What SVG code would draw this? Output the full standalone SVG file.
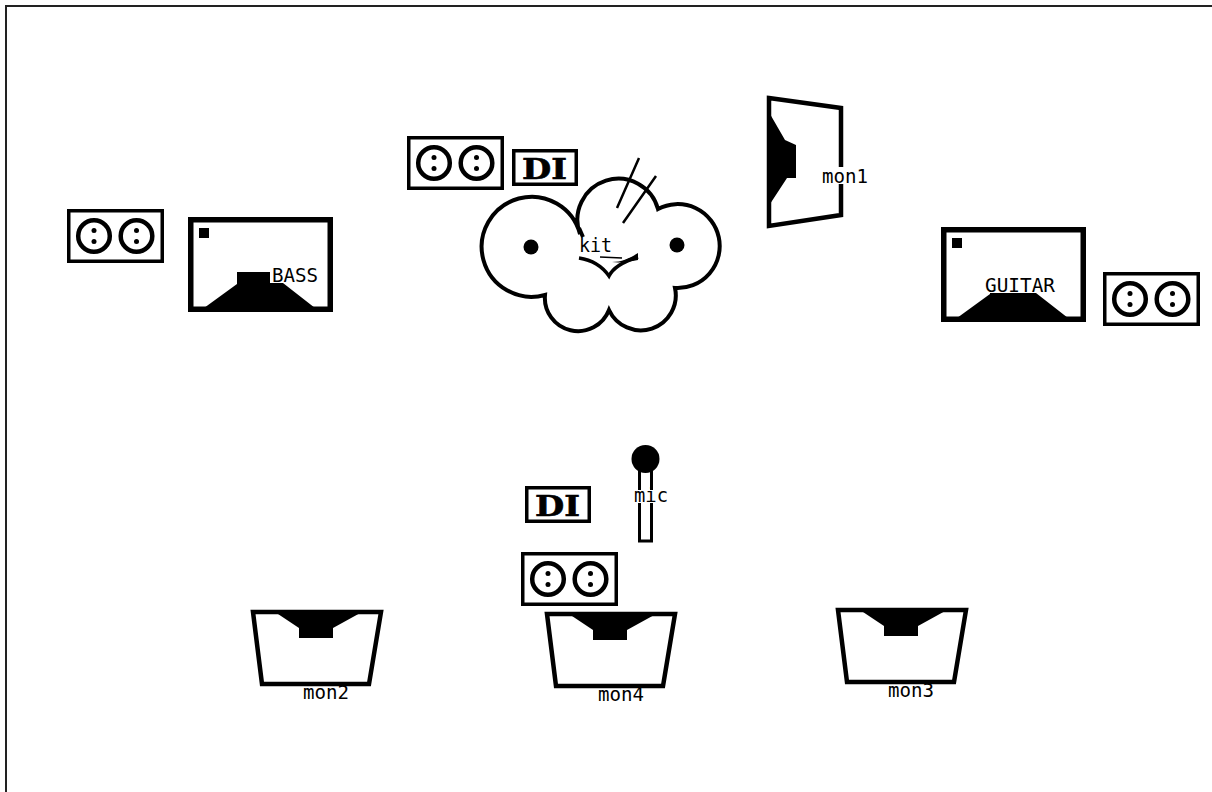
<svg xmlns="http://www.w3.org/2000/svg" width="1212" height="792" viewBox="0 0 1212 792">
<style>
.bg{fill:#fff;stroke:none}
.l{font-family:"DejaVu Sans Mono","Liberation Mono",monospace;font-size:20px;fill:#000}
.k{fill:#000;stroke:none}
.s{fill:#fff;stroke:#000;stroke-width:4.5;stroke-linejoin:miter}
.di{font-family:"DejaVu Serif","Liberation Serif",serif;font-weight:bold;font-size:28px;fill:#000;stroke:#000;stroke-width:.6}
</style>
<defs>
<g id="box">
<rect x="1.750" y="1.750" width="93.500" height="50.500" fill="#fff" stroke="#000" stroke-width="3.500"/>
<circle cx="27" cy="27" r="15.800" fill="none" stroke="#000" stroke-width="4.500"/>
<circle cx="69.500" cy="27" r="15.800" fill="none" stroke="#000" stroke-width="4.500"/>
<circle cx="27" cy="21.500" r="2.500" class="k"/><circle cx="27" cy="32.500" r="2.500" class="k"/>
<circle cx="69.500" cy="21.500" r="2.500" class="k"/><circle cx="69.500" cy="32.500" r="2.500" class="k"/>
</g>
<g id="di">
<rect x="1.750" y="1.750" width="62.500" height="33.500" fill="#fff" stroke="#000" stroke-width="3.500"/>
<text x="10" y="30" class="di" textLength="45" lengthAdjust="spacingAndGlyphs">DI</text>
</g>
<g id="amp">
<rect x="2.750" y="2.750" width="139.500" height="89.500" fill="#fff" stroke="#000" stroke-width="5.500"/>
<rect x="11" y="11" width="10" height="10" class="k"/>
<path d="M16 91L49 67V55H93V66H95L127 91Z" class="k"/>
</g>
<g id="wedge">
<path d="M3 3H131L119 75H12Z" class="s"/>
<path d="M25 3H112L83 19V29H49V19Z" class="k"/>
</g>
</defs>
<rect id="frame" x="6" y="6" width="1212" height="792" fill="#fff" stroke="#222" stroke-width="2"/>
<g id="connectors"/>
<g id="stagebox1"><use href="#box" x="67" y="209"/></g>
<g id="stagebox2"><use href="#box" x="407" y="136"/></g>
<g id="stagebox3"><use href="#box" x="1103" y="272"/></g>
<g id="stagebox4"><use href="#box" x="521" y="552"/></g>
<g id="di1"><use href="#di" x="512" y="149"/></g>
<g id="di2"><use href="#di" x="525" y="486"/></g>
<g id="bass"><use href="#amp" x="188" y="217"/><rect x="270" y="266" width="49" height="17" class="bg"/><text x="272" y="282" class="l" textLength="46" lengthAdjust="spacingAndGlyphs">BASS</text></g>
<g id="guitar"><use href="#amp" x="941" y="227"/><rect x="983" y="276" width="73" height="17" class="bg"/><text x="985" y="292" class="l" textLength="70" lengthAdjust="spacingAndGlyphs">GUITAR</text></g>
<g id="kit">
<path d="M580 234A50 50 0 1 0 545 295A33.200 33.200 0 0 0 609 310A35 35 0 0 0 675 288A42 42 0 1 0 658 209A41 41 0 1 0 580 234Z" fill="#fff" stroke="#000" stroke-width="4" stroke-linejoin="miter"/>
<path d="M579 258C592 260 602 266 609 276C613 268 622 262 638 257" fill="none" stroke="#000" stroke-width="3.500"/>
<path d="M612 262C622 262 630 258 638 253V260C628 262 620 263 612 262Z" class="k"/>
<rect x="579" y="238" width="34" height="18" class="bg"/>
<path d="M600 257L622 258" fill="none" stroke="#000" stroke-width="1.500"/>
<path d="M579 228L583 237" fill="none" stroke="#000" stroke-width="4"/>
<circle cx="531" cy="247" r="7.500" class="k"/>
<circle cx="677" cy="245" r="7.500" class="k"/>
<path d="M617 208L639 158M623 223L656 176" fill="none" stroke="#000" stroke-width="2.500"/>
<text x="579" y="252" class="l" textLength="33" lengthAdjust="spacingAndGlyphs">kit</text>
</g>
<g id="mon1">
<path d="M769 98L841 108V215L769 226Z" class="s"/>
<path d="M770 114L785 140L796 145V178H787L770 204Z" class="k"/>
<rect x="822" y="167" width="47" height="17" class="bg"/>
<text x="822" y="183" class="l" textLength="46" lengthAdjust="spacingAndGlyphs">mon1</text>
</g>
<g id="mic">
<rect x="639.500" y="470" width="12" height="71" fill="#fff" stroke="#000" stroke-width="3"/>
<circle cx="645.500" cy="459" r="14" class="k"/>
<rect x="634" y="490" width="34" height="13" class="bg"/>
<text x="634" y="502" class="l" textLength="34" lengthAdjust="spacingAndGlyphs">mic</text>
</g>
<g id="mon2"><use href="#wedge" x="250" y="609"/><text x="303" y="699" class="l" textLength="46" lengthAdjust="spacingAndGlyphs">mon2</text></g>
<g id="mon4"><use href="#wedge" x="544" y="611"/><text x="598" y="701" class="l" textLength="46" lengthAdjust="spacingAndGlyphs">mon4</text></g>
<g id="mon3"><use href="#wedge" x="835" y="607"/><text x="888" y="697" class="l" textLength="46" lengthAdjust="spacingAndGlyphs">mon3</text></g>
</svg>
